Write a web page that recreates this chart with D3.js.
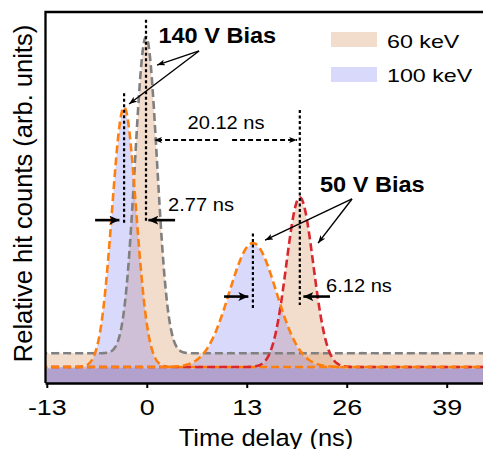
<!DOCTYPE html>
<html>
<head>
<meta charset="utf-8">
<title>Time delay histograms</title>
<script src="https://d3js.org/d3.v7.min.js"></script>
<style>
  body { margin: 0; background: #fff; }
  svg text { font-family: Arial, "Liberation Sans", sans-serif; fill: #000; }
</style>
</head>
<body>
<svg width="483" height="449"></svg>
<script>
// ---- data (relative hit counts, 0.5 ns bins starting at -13.5 ns) ----
var binStart = -13.5, binWidth = 0.5, nBins = 116;

var counts60keV_140V = [
  0.078,0.083,0.076,0.081,0.085,0.079,0.074,0.082,0.080,0.077,0.084,0.079,0.081,0.076,0.082,
  0.080,0.082,0.083,0.088,0.101,0.131,0.189,0.290,0.433,0.606,0.781,0.899,0.928,0.862,0.712,
  0.538,0.371,0.244,0.160,0.118,0.095,0.086,0.083,0.079,0.084,
  0.079,0.082,0.077,0.085,0.080,0.076,0.083,0.081,0.078,0.086,
  0.080,0.075,0.082,0.079,0.084,0.077,0.081,0.083,0.078,0.080,
  0.086,0.076,0.082,0.079,0.081,0.084,0.077,0.080,0.083,0.075,
  0.081,0.079,0.085,0.078,0.082,0.080,0.076,0.084,0.079,0.081,
  0.077,0.083,0.080,0.086,0.078,0.081,0.075,0.082,0.079,0.084,
  0.080,0.077,0.083,0.081,0.078,0.085,0.079,0.082,0.076,0.080,
  0.084,0.078,0.081,0.083,0.077,0.080,0.085,0.079,0.082,0.076,
  0.081,0.083,0.078,0.080,0.084,0.079
];
var counts60keV_50V = [
  0.039,0.042,0.038,0.040,0.043,0.037,0.041,0.039,0.044,0.040,
  0.038,0.042,0.041,0.036,0.040,0.043,0.039,0.041,0.038,0.042,
  0.040,0.044,0.037,0.041,0.039,0.040,0.043,0.038,0.042,0.039,
  0.041,0.037,0.040,0.044,0.038,0.041,0.042,0.039,0.040,0.036,
  0.043,0.040,0.038,0.041,0.039,0.042,0.040,0.037,0.043,0.041,
  0.038,0.040,0.042,
  0.040,0.041,0.042,0.044,0.049,0.059,0.078,0.109,0.156,0.218,0.294,0.372,0.440,0.485,
  0.496,0.471,0.415,0.341,0.262,0.192,0.135,0.095,0.069,0.054,0.047,0.043,0.041,
  0.040,0.038,0.043,0.041,0.039,0.037,0.042,0.040,0.044,0.039,
  0.041,0.038,0.040,0.043,0.036,0.041,0.039,0.042,0.040,0.038,
  0.044,0.041,0.039,0.037,0.042,0.040,0.043,0.038,0.041,0.039,
  0.040,0.042,0.037,0.041,0.043,0.039
];
var counts100keV_140V = [
  0.041,0.038,0.043,0.039,0.040,0.044,0.037,0.041,0.039,
  0.041,0.042,0.044,0.050,0.064,0.093,0.144,0.224,0.335,0.467,0.598,0.698,0.740,0.711,
  0.622,0.494,0.361,0.244,0.157,0.101,0.068,0.052,0.045,0.042,
  0.040,0.043,0.038,0.041,0.045,0.039,0.037,0.042,0.040,0.044,
  0.038,0.041,0.039,0.043,0.036,0.040,0.042,0.038,0.044,0.041,
  0.039,0.037,0.042,0.040,0.045,0.038,0.041,0.039,0.043,0.040,
  0.037,0.042,0.039,0.044,0.041,0.038,0.040,0.043,0.036,0.041,
  0.039,0.042,0.040,0.038,0.044,0.041,0.037,0.040,0.043,0.039,
  0.041,0.038,0.042,0.040,0.045,0.039,0.037,0.041,0.043,0.040,
  0.038,0.042,0.039,0.041,0.044,0.037,0.040,0.042,0.039,0.043,
  0.038,0.041,0.040,0.036,0.042,0.039,0.041,0.044,0.038,0.040,
  0.042,0.039,0.041
];
var counts100keV_50V = [
  0.041,0.039,0.037,0.042,0.040,0.044,0.038,0.041,0.039,0.043,
  0.040,0.036,0.041,0.042,0.039,0.040,0.038,0.043,0.041,0.039,
  0.042,0.040,0.037,0.041,0.044,0.039,0.040,0.038,0.042,0.041,
  0.039,0.043,0.040,0.038,0.041,0.042,
  0.043,0.045,0.048,0.053,0.059,0.068,0.080,0.095,0.114,0.137,0.164,0.194,0.226,
  0.259,0.291,0.321,0.345,0.363,0.372,0.373,0.365,0.349,0.326,0.298,0.266,0.233,
  0.200,0.169,0.142,0.118,0.098,0.082,0.070,0.061,0.054,0.049,0.046,0.044,0.042,
  0.041,0.039,0.043,0.040,0.037,0.042,0.040,0.038,0.044,0.041,
  0.039,0.040,0.036,0.042,0.041,0.039,0.043,0.040,0.038,0.041,
  0.042,0.039,0.037,0.040,0.044,0.041,0.038,0.040,0.042,0.039,
  0.041,0.043,0.038,0.040,0.037,0.042,0.040,0.039,0.044,0.041,
  0.040
];

// gaussian fits: centre (ns), sigma (ns), amplitude, offset
var fitNames   = ["60keV_140V", "100keV_140V", "60keV_50V", "100keV_50V"];
var fitCentres = [-0.1, -2.95, 19.9, 13.8];
var fitSigmas  = [1.43, 1.56, 1.75, 3.05];
var fitAmps    = [0.853, 0.70, 0.457, 0.334];
var fitOffsets = [0.080, 0.043, 0.043, 0.043];
var fitColors  = ["#808080", "#ff7f0e", "#d8272e", "#ff7f0e"];

var xTicks = [-13, 0, 13, 26, 39];
var legendLabels = ["60 keV", "100 keV"];

[counts60keV_140V, counts60keV_50V, counts100keV_140V, counts100keV_50V].forEach(function(a, i){
  if (a.length !== nBins) throw new Error("series " + i + " has " + a.length + " bins");
});

// ---- layout ----
var svg = d3.select("svg"),
    plotL = 45.5, plotR = 483, plotT = 12, plotB = 383;

var x = d3.scaleLinear().domain([-13, 39]).range([46.8, 446.7]);
var y = d3.scaleLinear().domain([0, 1]).range([plotB, plotT]);

var defs = svg.append("defs");
defs.append("clipPath").attr("id", "plot")
  .append("rect").attr("x", plotL).attr("y", plotT).attr("width", plotR - plotL).attr("height", plotB - plotT);

function marker(id, len, half) {
  defs.append("marker").attr("id", id)
    .attr("markerUnits", "userSpaceOnUse")
    .attr("viewBox", [-len, -half, len, 2 * half].join(" "))
    .attr("markerWidth", len).attr("markerHeight", 2 * half)
    .attr("refX", 0).attr("refY", 0).attr("orient", "auto")
    .append("path")
    .attr("d", `M0,0L${-len},${-half}L${-len * 0.75},0L${-len},${half}Z`)
    .attr("fill", "#000");
}
marker("headBig", 10, 4.5);
marker("headSmall", 8, 3);

var g = svg.append("g").attr("clip-path", "url(#plot)");

// ---- histograms ----
var area = d3.area()
  .x(function(d, i){ return x(binStart + i * binWidth); })
  .y0(y(0))
  .y1(function(d){ return y(d); });

var hists = [
  {v: counts60keV_140V, c: "rgba(212,138,85,0.3)"},
  {v: counts60keV_50V,  c: "rgba(212,138,85,0.3)"},
  {v: counts100keV_140V, c: "rgba(128,128,242,0.3)"},
  {v: counts100keV_50V,  c: "rgba(128,128,242,0.3)"}
];
g.selectAll(".hist").data(hists).enter().append("path")
  .attr("class", "hist")
  .attr("d", function(d){ return area(d.v); })
  .attr("fill", function(d){ return d.c; });

// ---- fits ----
var tFine = d3.range(-14, 45, 0.05);
var line = d3.line().x(function(d){ return x(d[0]); }).y(function(d){ return y(d[1]); });
fitNames.forEach(function(n, k){
  var pts = tFine.map(function(t){
    var d = t - fitCentres[k];
    return [t, fitOffsets[k] + fitAmps[k] * Math.exp(-d * d / (2 * fitSigmas[k] * fitSigmas[k]))];
  });
  g.append("path").attr("d", line(pts))
    .attr("fill", "none").attr("stroke", fitColors[k])
    .attr("stroke-width", 2.6).attr("stroke-dasharray", "8,4");
});

// ---- peak markers (dotted verticals) ----
var markT  = [-0.1, -2.95, 13.8, 19.9];
var markV0 = [0.979, 0.781, 0.403, 0.736];
var markV1 = [0.431, 0.431, 0.199, 0.210];
markT.forEach(function(t, k){
  svg.append("line")
    .attr("x1", x(t)).attr("x2", x(t)).attr("y1", y(markV0[k])).attr("y2", y(markV1[k]))
    .attr("stroke", "#000").attr("stroke-width", 2.2).attr("stroke-dasharray", "3,2.5");
});

// ---- arrows ----
function arrow(t0, v0, t1, v1, w, head, dash) {
  var l = svg.append("line")
    .attr("x1", x(t0)).attr("y1", y(v0)).attr("x2", x(t1)).attr("y2", y(v1))
    .attr("stroke", "#000").attr("stroke-width", w);
  if (head) l.attr("marker-end", "url(#" + head + ")");
  if (dash) l.attr("stroke-dasharray", dash);
}
// separations
arrow(-6.72, 0.439, -3.56, 0.439, 2.6, "headBig");
arrow(3.68, 0.439, 0.21, 0.439, 2.6, "headBig");
arrow(10.05, 0.233, 13.21, 0.233, 2.6, "headBig");
arrow(23.83, 0.233, 20.36, 0.233, 2.6, "headBig");
arrow(9.27, 0.655, 0.95, 0.655, 2, "headSmall", "5,3");
arrow(11.09, 0.655, 19.54, 0.655, 2, "headSmall", "5,3");
// bias labels
arrow(6.80, 0.895, 1.34, 0.857, 1.4, "headSmall");
arrow(6.80, 0.895, -2.30, 0.752, 1.4, "headSmall");
arrow(26.69, 0.496, 15.38, 0.385, 1.4, "headSmall");
arrow(26.69, 0.496, 22.27, 0.377, 1.4, "headSmall");

// ---- text ----
function label(px, py, str, size, weight, sx, anchor) {
  svg.append("text")
    .attr("transform", `translate(${px},${py}) scale(${sx},1)`)
    .attr("text-anchor", anchor || "start")
    .style("font-size", size + "px")
    .style("font-weight", weight || "normal")
    .text(str);
}
label(x(1.51), y(0.916), "140 V Bias", 22, "bold", 1.07);
label(x(22.53), y(0.515), "50 V Bias", 22, "bold", 1.07);
label(x(10.31), y(0.685), "20.12 ns", 18.6, "normal", 1.08, "middle");
label(x(2.77), y(0.464), "2.77 ns", 18.6, "normal", 1.08);
label(x(23.31), y(0.246), "6.12 ns", 18.6, "normal", 1.08);

// ---- axes / frame ----
svg.append("path")
  .attr("d", `M${plotR},${plotT}H${plotL}V${plotB}`)
  .attr("fill", "none").attr("stroke", "#000").attr("stroke-width", 2.3);

var xAxis = svg.append("g").attr("transform", `translate(0,${plotB})`)
  .call(d3.axisBottom(x).tickValues(xTicks).tickSize(5).tickSizeOuter(0)
        .tickFormat(function(d){ return String(d); }));
xAxis.select(".domain").attr("d", `M${plotL},0.5H${plotR}`).attr("stroke-width", 2.6);
xAxis.selectAll(".tick line").attr("stroke-width", 2);
xAxis.selectAll(".tick text")
  .attr("y", 0).attr("dy", 0)
  .attr("transform", "translate(0,32) scale(1.25,1)")
  .style("font-size", "21.5px")
  .style("font-family", "Arial, 'Liberation Sans', sans-serif");

label(266, 445.5, "Time delay (ns)", 24.5, "normal", 1.04, "middle");

svg.append("text")
  .attr("transform", "translate(31.5,193.5) rotate(-90)")
  .attr("text-anchor", "middle")
  .style("font-size", "25.5px")
  .text("Relative hit counts (arb. units)");

// ---- legend ----
var legendColors = ["rgba(212,138,85,0.3)", "rgba(128,128,242,0.3)"];
legendLabels.forEach(function(s, i){
  svg.append("rect").attr("x", 331).attr("y", 32 + i * 35).attr("width", 46).attr("height", 15)
    .attr("fill", legendColors[i]);
  label(387, 48 + i * 34, s, 18.6, "normal", 1.25);
});
</script>
</body>
</html>
